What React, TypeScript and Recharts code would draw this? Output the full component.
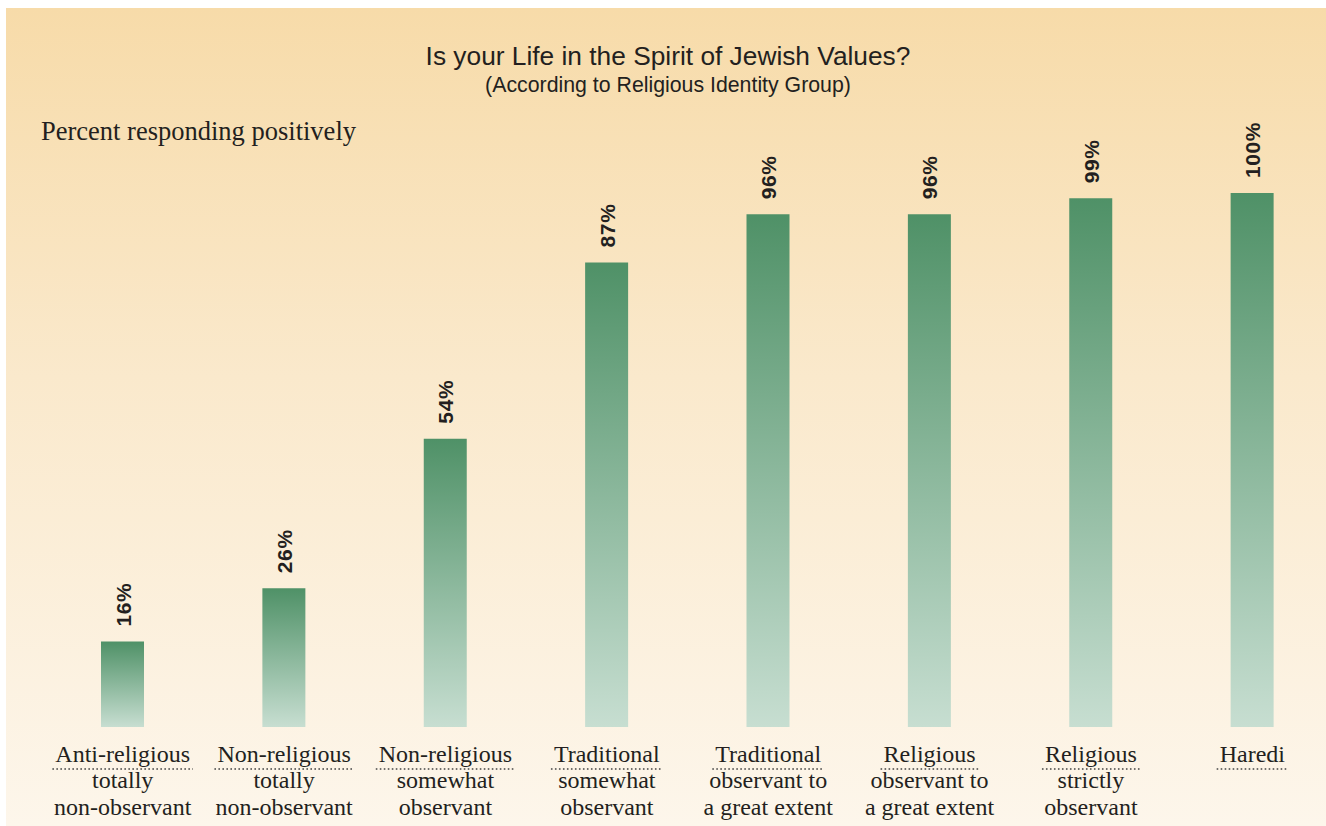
import React from "react";
import { BarChart, Bar, XAxis, YAxis, LabelList } from "recharts";

const groups = [
  "Anti-religious",
  "Non-religious",
  "Non-religious",
  "Traditional",
  "Traditional",
  "Religious",
  "Religious",
  "Haredi",
];

const subLabels = [
  ["totally", "non-observant"],
  ["totally", "non-observant"],
  ["somewhat", "observant"],
  ["somewhat", "observant"],
  ["observant to", "a great extent"],
  ["observant to", "a great extent"],
  ["strictly", "observant"],
  [],
];

const positive = [16, 26, 54, 87, 96, 96, 99, 100];

const data = groups.map((g, i) => ({ key: String(i), value: positive[i] }));

const TEXT = "#231f20";
const SERIF = "'Liberation Serif', 'Times New Roman', serif";
const SANS = "'Liberation Sans', Arial, sans-serif";

let measureCtx: CanvasRenderingContext2D | null = null;
const textWidth = (s: string, font: string) => {
  if (!measureCtx) measureCtx = document.createElement("canvas").getContext("2d");
  if (!measureCtx) return s.length * 11;
  measureCtx.font = font;
  return measureCtx.measureText(s).width;
};

const CategoryTick = (props: any) => {
  const { x, y, payload } = props;
  const i = Number(payload.value);
  const head = groups[i];
  const w = textWidth(head, `24px ${SERIF}`) + 6;
  return (
    <g>
      <text x={x} y={y + 35} textAnchor="middle" fontFamily={SERIF} fontSize={24} fill={TEXT}>
        {head}
      </text>
      <line
        x1={x - w / 2}
        x2={x + w / 2}
        y1={y + 42}
        y2={y + 42}
        stroke="#444"
        strokeWidth={1.6}
        strokeDasharray="1.6 2.4"
      />
      {subLabels[i].map((s, k) => (
        <text
          key={k}
          x={x}
          y={y + 61 + k * 27}
          textAnchor="middle"
          fontFamily={SERIF}
          fontSize={24}
          fill={TEXT}
        >
          {s}
        </text>
      ))}
    </g>
  );
};

const ValueLabel = (props: any) => {
  const { x, y, width, value } = props;
  const cx = x + width / 2 + 8;
  const cy = y - 15;
  return (
    <text
      transform={`translate(${cx},${cy}) rotate(-90)`}
      textAnchor="start"
      fontFamily={SANS}
      fontWeight="bold"
      fontSize={21}
      letterSpacing={0.6}
      fill={TEXT}
    >
      {`${value}%`}
    </text>
  );
};

export default function App() {
  return (
    <div
      style={{
        position: "fixed",
        left: 6,
        top: 8,
        width: 1320,
        height: 818,
        overflow: "hidden",
        background: "linear-gradient(to bottom, #f7dba9 0%, #fae9cc 45%, #fdf6eb 100%)",
      }}
    >
      <div
        style={{
          position: "absolute",
          left: 0,
          width: 1324,
          top: 35,
          textAlign: "center",
          fontFamily: SANS,
          fontSize: 26.3,
          color: TEXT,
          lineHeight: "26px",
        }}
      >
        Is your Life in the Spirit of Jewish Values?
      </div>
      <div
        style={{
          position: "absolute",
          left: 0,
          width: 1324,
          top: 67,
          textAlign: "center",
          fontFamily: SANS,
          fontSize: 21.3,
          color: TEXT,
          lineHeight: "21px",
        }}
      >
        (According to Religious Identity Group)
      </div>
      <div
        style={{
          position: "absolute",
          left: 35,
          top: 108,
          fontFamily: SERIF,
          fontSize: 26.5,
          color: TEXT,
          lineHeight: "30px",
        }}
      >
        Percent responding positively
      </div>
      <div style={{ position: "absolute", left: 0, top: 0 }}>
        <BarChart
          width={1331}
          height={818}
          data={data}
          margin={{ top: 185, right: 4, left: 36, bottom: 0 }}
          barCategoryGap={0}
        >
          <defs>
            <linearGradient id="barGreen" x1="0" y1="0" x2="0" y2="1">
              <stop offset="0%" stopColor="#4f9167" />
              <stop offset="100%" stopColor="#c7ded1" />
            </linearGradient>
          </defs>
          <XAxis
            dataKey="key"
            height={99}
            axisLine={false}
            tickLine={false}
            tickSize={0}
            tickMargin={0}
            interval={0}
            tick={<CategoryTick />}
          />
          <YAxis hide domain={[0, 100]} />
          <Bar dataKey="value" barSize={43} fill="url(#barGreen)" isAnimationActive={false}>
            <LabelList dataKey="value" content={<ValueLabel />} />
          </Bar>
        </BarChart>
      </div>
    </div>
  );
}
